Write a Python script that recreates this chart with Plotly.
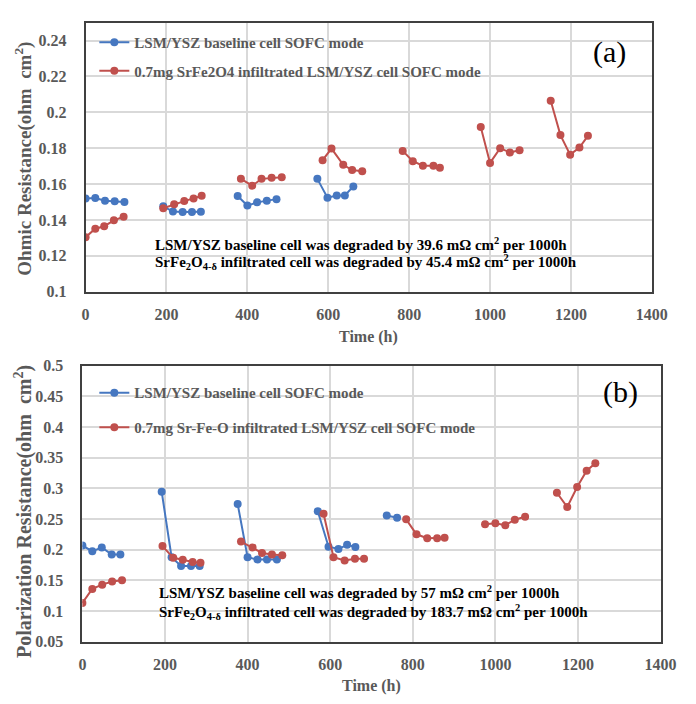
import plotly.graph_objects as go

# ---------------- data ----------------
# Panel (a) Ohmic resistance, segments of (time h, ohm cm2)
blue_a_t = [[0, 24, 48, 72, 96], [192, 216, 240, 263, 285], [376, 400, 424, 448, 472],
            [573, 598, 621, 641, 662]]
blue_a_v = [[0.1520, 0.1522, 0.1507, 0.1504, 0.1500], [0.1476, 0.1447, 0.1444, 0.1444, 0.1445],
            [0.1533, 0.1480, 0.1498, 0.1507, 0.1516], [0.1629, 0.1524, 0.1536, 0.1536, 0.1587]]
red_a_t = [[0, 24, 46, 70, 94], [192, 219, 244, 267, 287], [384, 412, 435, 460, 485],
           [586, 608, 637, 659, 684], [784, 809, 834, 860, 876], [977, 1000, 1025, 1049, 1073],
           [1150, 1174, 1198, 1221, 1242]]
red_a_v = [[0.1304, 0.1351, 0.1365, 0.1398, 0.1418], [0.1465, 0.1487, 0.1505, 0.1520, 0.1535],
           [0.1629, 0.1591, 0.1629, 0.1635, 0.1638], [0.1733, 0.1798, 0.1707, 0.1678, 0.1671],
           [0.1785, 0.1727, 0.1702, 0.1702, 0.1691], [0.1918, 0.1718, 0.1800, 0.1776, 0.1789],
           [0.2064, 0.1873, 0.1764, 0.1804, 0.1869]]

# Panel (b) Polarization resistance
blue_b_t = [[0, 24, 47, 71, 92], [192, 216, 239, 263, 284], [376, 400, 424, 447, 471],
            [570, 596, 620, 641, 661], [737, 762]]
blue_b_v = [[0.2069, 0.1973, 0.2037, 0.1920, 0.1920], [0.2947, 0.1878, 0.1734, 0.1734, 0.1734],
            [0.2745, 0.1878, 0.1840, 0.1840, 0.1840], [0.2628, 0.2048, 0.2011, 0.2080, 0.2043],
            [0.2558, 0.2521]]
red_b_t = [[0, 24, 48, 72, 96], [194, 220, 243, 267, 286], [384, 412, 435, 459, 484],
           [584, 608, 635, 660, 682], [784, 809, 835, 859, 877], [975, 1000, 1024, 1047, 1072],
           [1149, 1174, 1198, 1221, 1242]]
red_b_v = [[0.1130, 0.1360, 0.1430, 0.1480, 0.1500], [0.2059, 0.1867, 0.1835, 0.1798, 0.1787],
           [0.2133, 0.2037, 0.1947, 0.1920, 0.1910], [0.2585, 0.1878, 0.1824, 0.1851, 0.1851],
           [0.2495, 0.2251, 0.2188, 0.2188, 0.2193], [0.2415, 0.2431, 0.2400, 0.2490, 0.2537],
           [0.2929, 0.2696, 0.3024, 0.3288, 0.3410]]

legend_a = ["LSM/YSZ baseline cell SOFC mode", "0.7mg SrFe2O4 infiltrated LSM/YSZ cell SOFC mode"]
legend_b = ["LSM/YSZ baseline cell SOFC mode", "0.7mg Sr-Fe-O infiltrated LSM/YSZ cell SOFC mode"]
x_ticks = [0, 200, 400, 600, 800, 1000, 1200, 1400]

# ---------------- layout helpers ----------------
W, H = 696, 704
def px(x): return x / W
def py(y): return 1 - y / H

BLUE = "#4677C0"
RED = "#C0504D"
GRAY = "#595959"
FONT = "Liberation Serif"

def join(segs_t, segs_v):
    xs, ys = [], []
    for t, v in zip(segs_t, segs_v):
        xs += list(t) + [None]
        ys += list(v) + [None]
    return xs, ys

fig = go.Figure()
for segs_t, segs_v, name, color, xa, ya, lg, grp in [
    (blue_a_t, blue_a_v, legend_a[0], BLUE, "x", "y", "legend", "a1"),
    (red_a_t, red_a_v, legend_a[1], RED, "x", "y", "legend", "a2"),
    (blue_b_t, blue_b_v, legend_b[0], BLUE, "x2", "y2", "legend2", "b1"),
    (red_b_t, red_b_v, legend_b[1], RED, "x2", "y2", "legend2", "b2"),
]:
    xs, ys = join(segs_t, segs_v)
    fig.add_trace(go.Scatter(x=xs, y=ys, mode="lines+markers", name=name,
                             line=dict(color=color, width=2),
                             marker=dict(color=color, size=8),
                             xaxis=xa, yaxis=ya, legend=lg, legendgroup=grp,
                             connectgaps=False))

tickfont = dict(family=FONT, size=16, color=GRAY, weight="bold")
axis_common = dict(showgrid=True, gridcolor="#d9d9d9", gridwidth=1.5, showline=True,
                   linecolor="#404040", linewidth=2, mirror=True, ticks="",
                   zeroline=False, tickfont=tickfont)
legfont = dict(family=FONT, size=15, color=GRAY, weight="bold")

fig.update_layout(
    width=W, height=H, margin=dict(l=0, r=0, t=0, b=0),
    paper_bgcolor="white", plot_bgcolor="white",
    xaxis=dict(domain=[px(84), px(667)], range=[0, 1400], tickvals=x_ticks, anchor="y",
               ticklabelstandoff=7, **axis_common),
    yaxis=dict(domain=[py(290.7), py(15)], range=[0.1, 0.25], tick0=0.1, dtick=0.02,
               anchor="x", ticklabelstandoff=14, **axis_common),
    xaxis2=dict(domain=[px(80.7), px(676)], range=[0, 1400], tickvals=x_ticks, anchor="y2",
                ticklabelstandoff=7, **axis_common),
    yaxis2=dict(domain=[py(649.3), py(366.7)], range=[0.05, 0.5], tick0=0.05, dtick=0.05,
                anchor="x2", ticklabelstandoff=14, **axis_common),
    legend=dict(x=px(93), y=py(18.5), xanchor="left", yanchor="top",
                bgcolor="rgba(0,0,0,0)", traceorder="grouped", tracegroupgap=6,
                font=legfont),
    legend2=dict(x=px(93), y=py(377.5), xanchor="left", yanchor="top",
                 bgcolor="rgba(0,0,0,0)", traceorder="grouped", tracegroupgap=12,
                 font=legfont),
    showlegend=True,
)

ann_font = dict(family=FONT, size=15, color="black", weight="bold")
title_font = dict(family=FONT, size=16, color=GRAY, weight="bold")
annots = [
    dict(x=px(153), y=py(241.7), text="LSM/YSZ baseline cell was degraded by 39.6 mΩ cm<sup>2</sup> per 1000h",
         xanchor="left", yanchor="middle", font=ann_font),
    dict(x=px(153), y=py(260.5), text="SrFe<sub>2</sub>O<sub>4-δ</sub> infiltrated cell was degraded by 45.4 mΩ cm<sup>2</sup> per 1000h",
         xanchor="left", yanchor="middle", font=ann_font),
    dict(x=px(158), y=py(598.3), text="LSM/YSZ baseline cell was degraded by 57 mΩ cm<sup>2</sup> per 1000h",
         xanchor="left", yanchor="middle", font=ann_font),
    dict(x=px(158), y=py(619.3), text="SrFe<sub>2</sub>O<sub>4-δ</sub> infiltrated cell was degraded by 183.7 mΩ cm<sup>2</sup> per 1000h",
         xanchor="left", yanchor="middle", font=ann_font),
    dict(x=px(623), y=py(45), text="(a)", xanchor="center", yanchor="middle",
         font=dict(family=FONT, size=30, color="black")),
    dict(x=px(635), y=py(393), text="(b)", xanchor="center", yanchor="middle",
         font=dict(family=FONT, size=30, color="black")),
    dict(x=px(375.5), y=py(337), text="Time (h)", xanchor="center", yanchor="middle", font=title_font),
    dict(x=px(378), y=py(695), text="Time (h)", xanchor="center", yanchor="middle", font=title_font),
    dict(x=px(20), y=py(154), text="Ohmic Resistance(ohm  cm<sup>2</sup>)", textangle=-90,
         xanchor="center", yanchor="middle", font=dict(family=FONT, size=19, color=GRAY, weight="bold")),
    dict(x=px(20), y=py(516), text="Polarization Resistance(ohm  cm<sup>2</sup>)", textangle=-90,
         xanchor="center", yanchor="middle", font=dict(family=FONT, size=20, color=GRAY, weight="bold")),
]
for a in annots:
    a.update(xref="paper", yref="paper", showarrow=False)
fig.update_layout(annotations=annots)

fig.write_html("out.html")
